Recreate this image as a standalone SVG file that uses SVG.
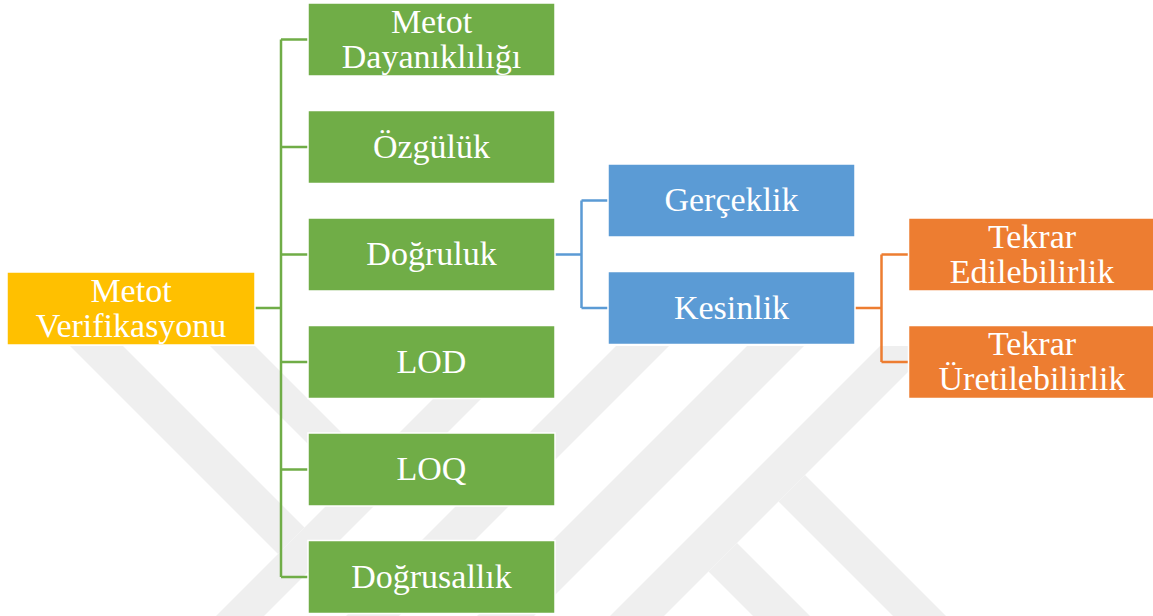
<svg xmlns="http://www.w3.org/2000/svg" width="1153" height="616" viewBox="0 0 1153 616">
<defs>
<style>
.wm{fill:#efefef}
.box{stroke:#ffffff;stroke-width:1.5}
.g{fill:#70AD47}.y{fill:#FFC000}.b{fill:#5B9BD5}.o{fill:#ED7D31}
.lbl{font-size:34px;fill:#ffffff;text-anchor:middle}
.cg{stroke:#70AD47}.cb{stroke:#5B9BD5}.co{stroke:#ED7D31}
.conn path{fill:none;stroke-width:2.5}
</style>
<clipPath id="wmclip"><rect x="0" y="346" width="1153" height="270"/></clipPath>
</defs>
<rect width="1153" height="616" fill="#ffffff"/>
<g id="watermark" clip-path="url(#wmclip)">
<polygon class="wm" points="486,346 534,346 264,616 216,616"/>
<polygon class="wm" points="616,346 669,346 399,616 346,616"/>
<polygon class="wm" points="747,346 804,346 534,616 477,616"/>
<polygon class="wm" points="880,346 934,346 664,616 610,616"/>
<polygon class="wm" points="70,346 123,346 304.5,527.5 278,554"/>
<polygon class="wm" points="210,346 255,346 370.5,461.5 348,484"/>
<polygon class="wm" points="737,543 810,616 753,616 708.5,571.5"/>
<polygon class="wm" points="805,475 946,616 893,616 778.5,501.5"/>
</g>
<g id="connectors" class="conn">
<path class="cg" d="M255,308 H281 M281,39.5 V577 M281,39.5 H308 M281,147 H308 M281,254.5 H308 M281,362 H308 M281,469.5 H308 M281,577 H308"/>
<path class="cb" d="M555,254.5 H581.5 M581.5,200.5 V308 M581.5,200.5 H608 M581.5,308 H608"/>
<path class="co" d="M855,308 H881.5 M881.5,254.5 V362 M881.5,254.5 H908.5 M881.5,362 H908.5"/>
</g>
<g id="nodes" font-family="'Liberation Serif', 'Times New Roman', serif">
<g id="n-root"><rect class="box y" x="7" y="272" width="248" height="73"/><text class="lbl" x="131" y="301.5">Metot</text><text class="lbl" x="131" y="336.5">Verifikasyonu</text></g>
<g id="n-dayaniklilik"><rect class="box g" x="308" y="3" width="247" height="73"/><text class="lbl" x="431.5" y="32.5">Metot</text><text class="lbl" x="431.5" y="67.5">Dayanıklılığı</text></g>
<g id="n-ozgulluk"><rect class="box g" x="308" y="110.5" width="247" height="73"/><text class="lbl" x="431.5" y="157.5">Özgülük</text></g>
<g id="n-dogruluk"><rect class="box g" x="308" y="218" width="247" height="73"/><text class="lbl" x="431.5" y="265">Doğruluk</text></g>
<g id="n-lod"><rect class="box g" x="308" y="325.5" width="247" height="73"/><text class="lbl" x="431.5" y="372.5">LOD</text></g>
<g id="n-loq"><rect class="box g" x="308" y="433" width="247" height="73"/><text class="lbl" x="431.5" y="480">LOQ</text></g>
<g id="n-dogrusallik"><rect class="box g" x="308" y="540.5" width="247" height="73"/><text class="lbl" x="431.5" y="587.5">Doğrusallık</text></g>
<g id="n-gerceklik"><rect class="box b" x="608" y="164" width="247" height="73"/><text class="lbl" x="731.5" y="211">Gerçeklik</text></g>
<g id="n-kesinlik"><rect class="box b" x="608" y="271.5" width="247" height="73"/><text class="lbl" x="731.5" y="318.5">Kesinlik</text></g>
<g id="n-tekrar-edilebilirlik"><rect class="box o" x="908.5" y="218" width="247" height="73"/><text class="lbl" x="1032" y="247.5">Tekrar</text><text class="lbl" x="1032" y="282.5">Edilebilirlik</text></g>
<g id="n-tekrar-uretilebilirlik"><rect class="box o" x="908.5" y="325.5" width="247" height="73"/><text class="lbl" x="1032" y="355">Tekrar</text><text class="lbl" x="1032" y="390">Üretilebilirlik</text></g>
</g>
</svg>
